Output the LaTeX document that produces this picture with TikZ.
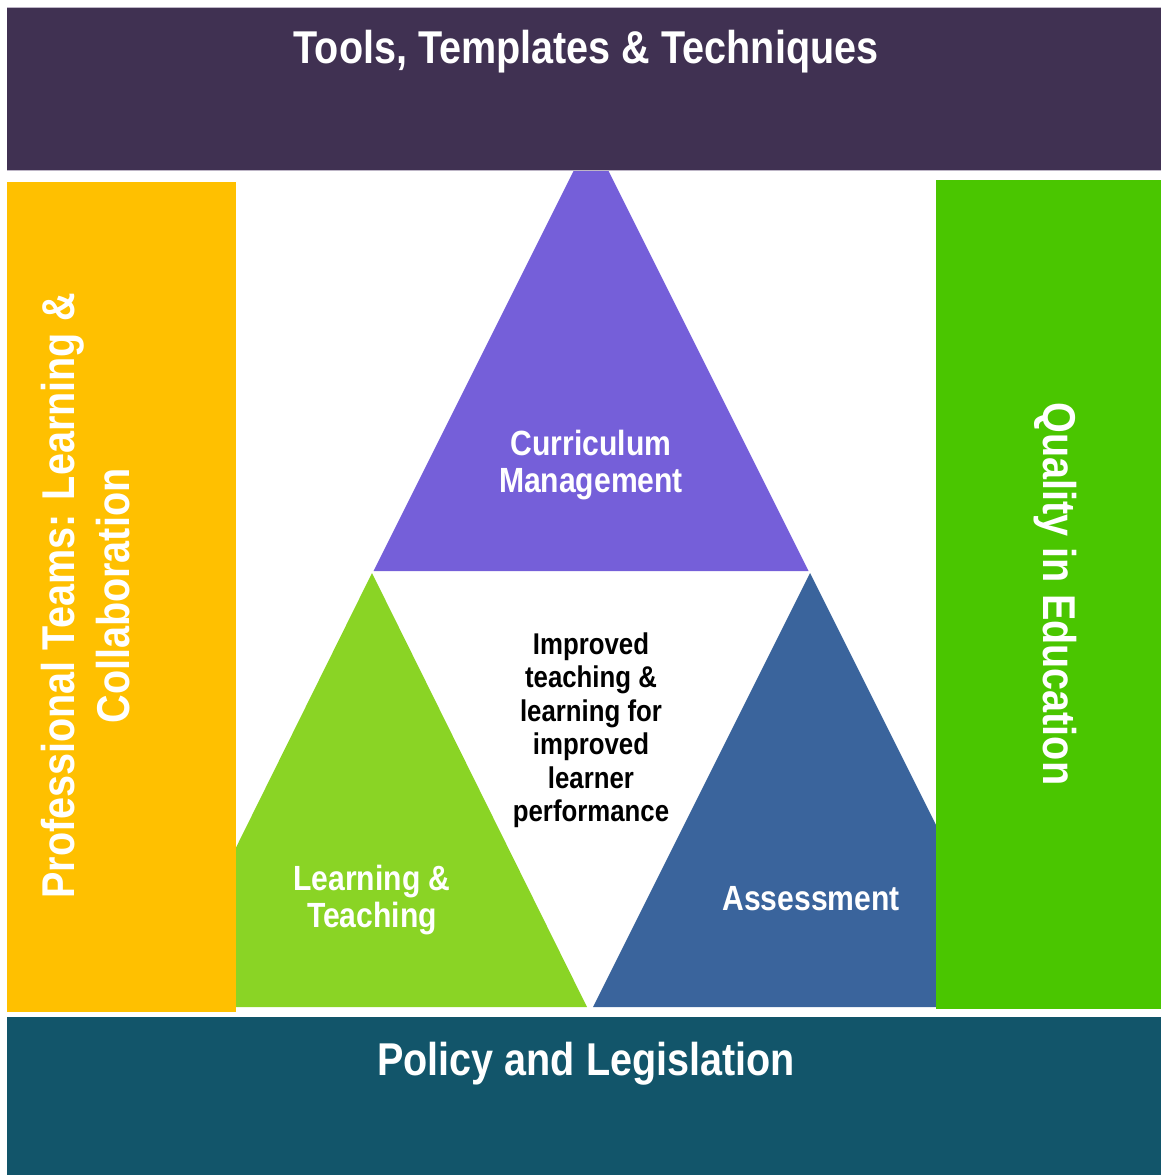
\documentclass[tikz,border=0pt]{standalone}
\usepackage{fontspec}
\setmainfont{Liberation Sans}[FakeStretch=0.86]
\definecolor{topbar}{HTML}{403152}
\definecolor{topedge}{HTML}{BDB5C6}
\definecolor{yel}{HTML}{FFC000}
\definecolor{rgreen}{HTML}{4AC600}
\definecolor{lgreen}{HTML}{8AD425}
\definecolor{purp}{HTML}{755FD9}
\definecolor{blu}{HTML}{3A649C}
\definecolor{botbar}{HTML}{12556A}
\tikzset{
  lbl/.style={text=white, font=\bfseries, align=center, inner sep=0pt},
  big/.style={lbl, font=\fontsize{46}{55}\selectfont\bfseries},
  mid/.style={lbl, font=\fontsize{35}{37.5}\selectfont\bfseries},
  ctr/.style={inner sep=0pt, align=center, text=black, font=\fontsize{30}{33.5}\selectfont\bfseries}
}
\begin{document}
\begin{tikzpicture}[x=1pt,y=-1pt]
\useasboundingbox (0,0) rectangle (1161,1175);
% triangles (behind the bars)
\fill[lgreen] (372,573) -- (587,1007) -- (157,1007) -- cycle;
\fill[blu] (810,573) -- (1027,1007) -- (593,1007) -- cycle;
\fill[purp] (591,136) -- (808.5,571) -- (373.5,571) -- cycle;
% bars
\fill[topbar] (7,7) rectangle (1161,170);
\draw[topedge, line width=1pt] (7,7) -- (1161,7) (7,170) -- (1161,170);
\fill[yel] (7,182) rectangle (236,1012);
\fill[rgreen] (936,180) rectangle (1161,1009);
\fill[botbar] (7,1017) rectangle (1161,1175);
% texts
\node[big] (tools) at (586,52) {Tools, Templates \& Techniques};
\node[big] (policy) at (586,1064) {Policy and Legislation};
\node[big, rotate=90] (prof) at (86,596) {Professional Teams: Learning \&\\Collaboration};
\node[big, rotate=-90] (qual) at (1055,594) {Quality in Education};
\node[mid] (curr) at (591,465) {Curriculum\\Management};
\node[mid] (lt) at (372,900) {Learning \&\\Teaching};
\node[mid] (ass) at (811,899) {Assessment};
\node[ctr] (imp) at (591,730) {Improved\\teaching \&\\learning for\\improved\\learner\\performance};
\end{tikzpicture}
\end{document}
